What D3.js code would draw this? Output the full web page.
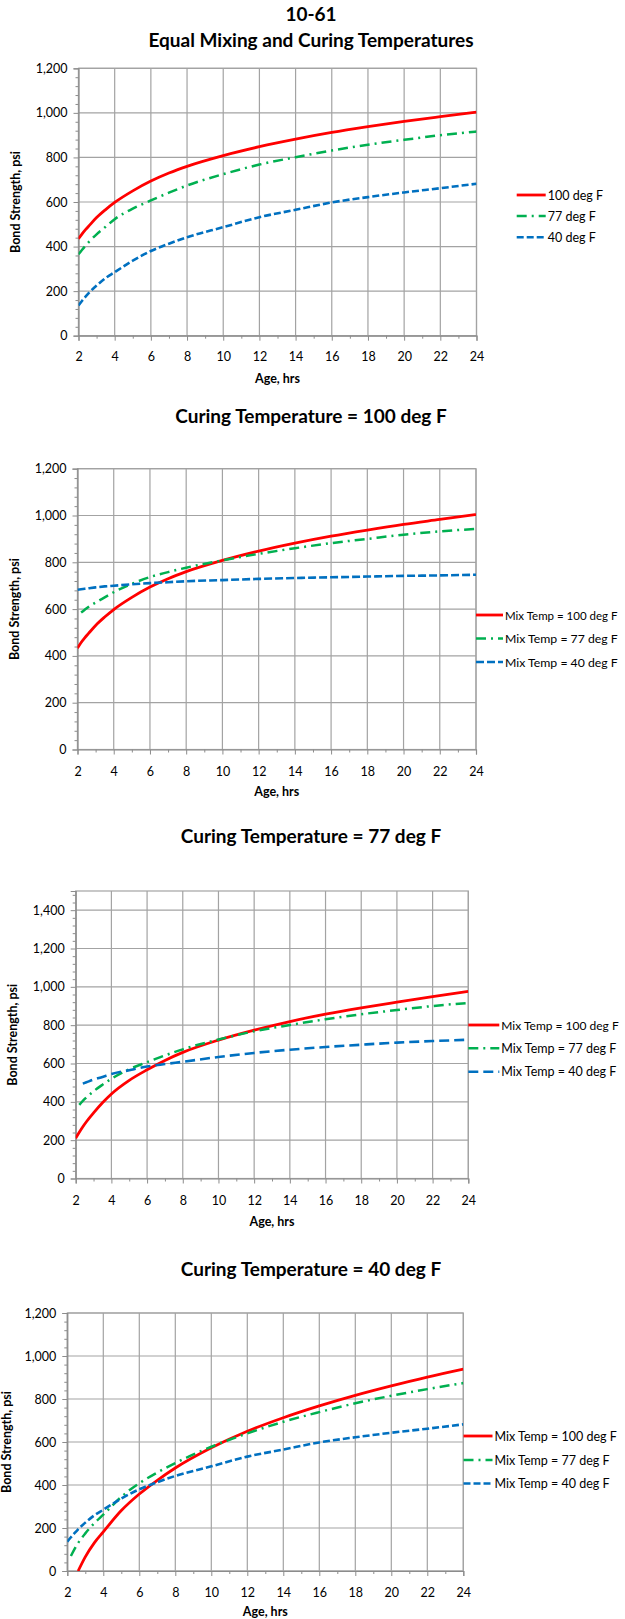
<!DOCTYPE html>
<html><head><meta charset="utf-8">
<script src="https://cdn.jsdelivr.net/npm/d3@7"></script>
<style>
body{margin:0;background:#fff}
svg{display:block}
text{font-family:Lato,'Open Sans',sans-serif;fill:#000}
</style>
</head><body>
<svg id="c" width="625" height="1619"></svg>
<script>
// ---- data ----
const ages = [2, 2.2, 2.4, 2.6, 3, 3.5, 4, 5, 6, 7, 8, 10, 12, 14, 16, 18, 20, 22, 24];
const xTickValues = [2,4,6,8,10,12,14,16,18,20,22,24];
const yTicks1200 = [0,200,400,600,800,1000,1200];
const yTicks1500 = [0,200,400,600,800,1000,1200,1400];

// Equal mixing and curing temperatures
const equal100 = [435,457,477,495,530,566,598,650,694,730,760,808,848,882,912,938,962,983,1003];
const equal77  = [365,386,405,423,455,489,523,570,607,642,674,725,768,801,831,857,879,900,916];
const equal40  = [136,157,176,194,225,259,285,337,380,413,442,487,532,565,598,622,643,662,682];
// Curing 100 deg F
const cure100mix100 = [433,457,477,495,530,566,598,650,694,730,760,808,848,882,912,938,962,983,1004];
const cure100mix77  = [null,585,597,609,628,650,672,708,737,758,777,808,836,860,882,900,918,932,943];
const cure100mix40  = [683,685,687,689,693,697,700,706,711,715,719,724,729,733,736,739,742,744,747];
// Curing 77 deg F
const cure77mix100 = [210,241,270,296,342,395,441,512,567,616,658,722,774,819,857,890,920,949,976];
const cure77mix77  = [null,384,405,423,455,489,520,570,607,642,674,725,768,801,831,857,879,900,916];
const cure77mix40  = [null,null,495,502,516,530,545,565,584,597,609,634,655,672,686,698,709,717,724];
// Curing 40 deg F
const cure40mix100 = [null,null,null,0,66,131,182,281,358,422,479,573,650,713,768,817,861,902,939];
const cure40mix77  = [null,70,102,130,175,222,262,345,408,458,502,578,640,694,739,780,815,846,874];
const cure40mix40  = [136,157,176,194,225,259,285,337,380,413,442,487,532,565,598,622,643,662,682];

const legend1 = ['100 deg F','77 deg F','40 deg F'];
const legendMix = ['Mix Temp = 100 deg F','Mix Temp = 77 deg F','Mix Temp = 40 deg F'];

// ---- styles ----
const RED = '#ff0000', GREEN = '#00b050', BLUE = '#0070c0';
const GRID = '#a3a3a3';

const charts = [
  {titles:['10-61','Equal Mixing and Curing Temperatures'], yMax:1200, yTicks:yTicks1200,
   series:[equal100, equal77, equal40], names:legend1, blueDash:'7,3',
   L:{left:78.5,right:476.5,top:68.3,bottom:335.7,titleY:[13,39.5],xLabY:356.7,xTitleY:378,yTitleX:15.5,legX:516.7,legLen:29,legY:[195,216,237.3]}},
  {titles:['Curing Temperature = 100 deg F'], yMax:1200, yTicks:yTicks1200,
   series:[cure100mix100, cure100mix77, cure100mix40], names:legendMix, blueDash:'8,3',
   L:{left:77.5,right:476,top:468.7,bottom:749.5,titleY:[415],xLabY:771,xTitleY:791.5,yTitleX:14.5,legX:476,legLen:27,legY:[615,638.5,662]}},
  {titles:['Curing Temperature = 77 deg F'], yMax:1500, yTicks:yTicks1500,
   series:[cure77mix100, cure77mix77, cure77mix40], names:legendMix, blueDash:'10,5',
   L:{left:75.7,right:468.3,top:891,bottom:1178.5,titleY:[835],xLabY:1200.5,xTitleY:1221,yTitleX:12.4,legX:468.3,legLen:31,legY:[1025,1048.3,1071.7]}},
  {titles:['Curing Temperature = 40 deg F'], yMax:1200, yTicks:yTicks1200,
   series:[cure40mix100, cure40mix77, cure40mix40], names:legendMix, blueDash:'7,3',
   L:{left:67.3,right:463.3,top:1313,bottom:1571,titleY:[1268.6],xLabY:1592,xTitleY:1611.7,yTitleX:6.5,legX:463.5,legLen:29,legY:[1436,1460,1483.5]}}
];

const svg = d3.select('#c');

charts.forEach((ch, ci) => {
  const L = ch.L;
  const x = d3.scaleLinear().domain([2,24]).range([L.left, L.right]);
  const y = d3.scaleLinear().domain([0, ch.yMax]).range([L.bottom, L.top]);
  const g = svg.append('g');

  // titles
  ch.titles.forEach((t,i) => {
    g.append('text').attr('x', 311).attr('y', L.titleY[i])
      .attr('text-anchor','middle').attr('dominant-baseline','central')
      .attr('font-weight','bold').attr('font-size', 19).text(t);
  });

  // gridlines
  g.append('g').selectAll('line').data(ch.yTicks).join('line')
    .attr('x1', L.left).attr('x2', L.right)
    .attr('y1', d => y(d)).attr('y2', d => y(d))
    .attr('stroke', GRID).attr('stroke-width', 1.2);
  g.append('g').selectAll('line').data(xTickValues).join('line')
    .attr('y1', L.top).attr('y2', L.bottom)
    .attr('x1', d => x(d)).attr('x2', d => x(d))
    .attr('stroke', GRID).attr('stroke-width', 1.2);
  g.append('rect').attr('x', L.left).attr('y', L.top)
    .attr('width', L.right - L.left).attr('height', L.bottom - L.top)
    .attr('fill','none').attr('stroke', GRID).attr('stroke-width', 1.2);

  // minor ticks
  const yMinor = d3.range(0, ch.yMax + 1, 40).filter(v => v % 200 !== 0);
  g.append('g').attr('transform', `translate(${L.left},0)`)
    .call(d3.axisLeft(y).tickValues(yMinor).tickSize(3).tickFormat(''))
    .call(s => { s.select('.domain').remove(); s.selectAll('line').attr('stroke','#8c8c8c'); });
  const xMinor = d3.range(3, 24, 2);
  g.append('g').attr('transform', `translate(0,${L.bottom})`)
    .call(d3.axisBottom(x).tickValues(xMinor).tickSize(3).tickFormat(''))
    .call(s => { s.select('.domain').remove(); s.selectAll('line').attr('stroke','#8c8c8c'); });

  // major axes
  const ya = g.append('g').attr('transform', `translate(${L.left},0)`)
    .call(d3.axisLeft(y).tickValues(ch.yTicks).tickSize(5).tickPadding(6).tickFormat(d3.format(',')));
  ya.select('.domain').attr('stroke','#8c8c8c').attr('stroke-width',1.2);
  ya.selectAll('line').attr('stroke','#8c8c8c');
  ya.selectAll('text').attr('font-size', 12.5).attr('font-family','Lato,sans-serif').attr('fill','#000');

  const xa = g.append('g').attr('transform', `translate(0,${L.bottom})`)
    .call(d3.axisBottom(x).tickValues(xTickValues).tickSize(5).tickFormat(d3.format('d')));
  xa.select('.domain').attr('stroke','#8c8c8c').attr('stroke-width',1.2);
  xa.selectAll('line').attr('stroke','#8c8c8c');
  xa.selectAll('text').attr('font-size', 12.5).attr('font-family','Lato,sans-serif').attr('fill','#000')
    .attr('y', L.xLabY - L.bottom).attr('dy', null).attr('dominant-baseline','central');

  // axis titles
  g.append('text').attr('x', (L.left + L.right)/2).attr('y', L.xTitleY)
    .attr('text-anchor','middle').attr('dominant-baseline','central')
    .attr('font-weight','bold').attr('font-size', 12.5).text('Age, hrs');
  g.append('text')
    .attr('transform', `translate(${L.yTitleX},${(L.top + L.bottom)/2}) rotate(-90)`)
    .attr('text-anchor','middle').attr('dominant-baseline','central')
    .attr('font-weight','bold').attr('font-size', 12.5).text('Bond Strength, psi');

  // clip
  const cid = 'clip' + ci;
  svg.append('defs').append('clipPath').attr('id', cid)
    .append('rect').attr('x', L.left).attr('y', L.top)
    .attr('width', L.right - L.left).attr('height', L.bottom - L.top);

  const styles = [
    {color: RED, dash: null, w: 2.8},
    {color: GREEN, dash: '10,5,2,5', w: 2.5},
    {color: BLUE, dash: ch.blueDash, w: 2.6}
  ];
  const line = d3.line()
    .defined(d => d.v !== null)
    .x(d => x(d.t)).y(d => y(d.v))
    .curve(d3.curveMonotoneX);

  const lg = g.append('g').attr('clip-path', `url(#${cid})`);
  ch.series.forEach((vals, si) => {
    const pts = ages.map((t, i) => ({t, v: vals[i]})).filter(d => d.v !== null);
    lg.append('path').datum(pts).attr('d', line)
      .attr('fill','none').attr('stroke', styles[si].color)
      .attr('stroke-width', styles[si].w)
      .attr('stroke-dasharray', styles[si].dash);
  });

  // legend
  ch.names.forEach((n, si) => {
    const ly = L.legY[si];
    g.append('line').attr('x1', L.legX).attr('x2', L.legX + L.legLen)
      .attr('y1', ly).attr('y2', ly)
      .attr('stroke', styles[si].color).attr('stroke-width', styles[si].w)
      .attr('stroke-dasharray', styles[si].dash);
    const tx = L.legX + L.legLen + 2;
    let fs = 12.5;
    const t = g.append('text').attr('x', tx).attr('y', ly)
      .attr('dominant-baseline','central').attr('font-size', fs).text(n);
    while (tx + t.node().getComputedTextLength() > 619 && fs > 9) {
      fs -= 0.25;
      t.attr('font-size', fs);
    }
  });
});
</script>
</body></html>
